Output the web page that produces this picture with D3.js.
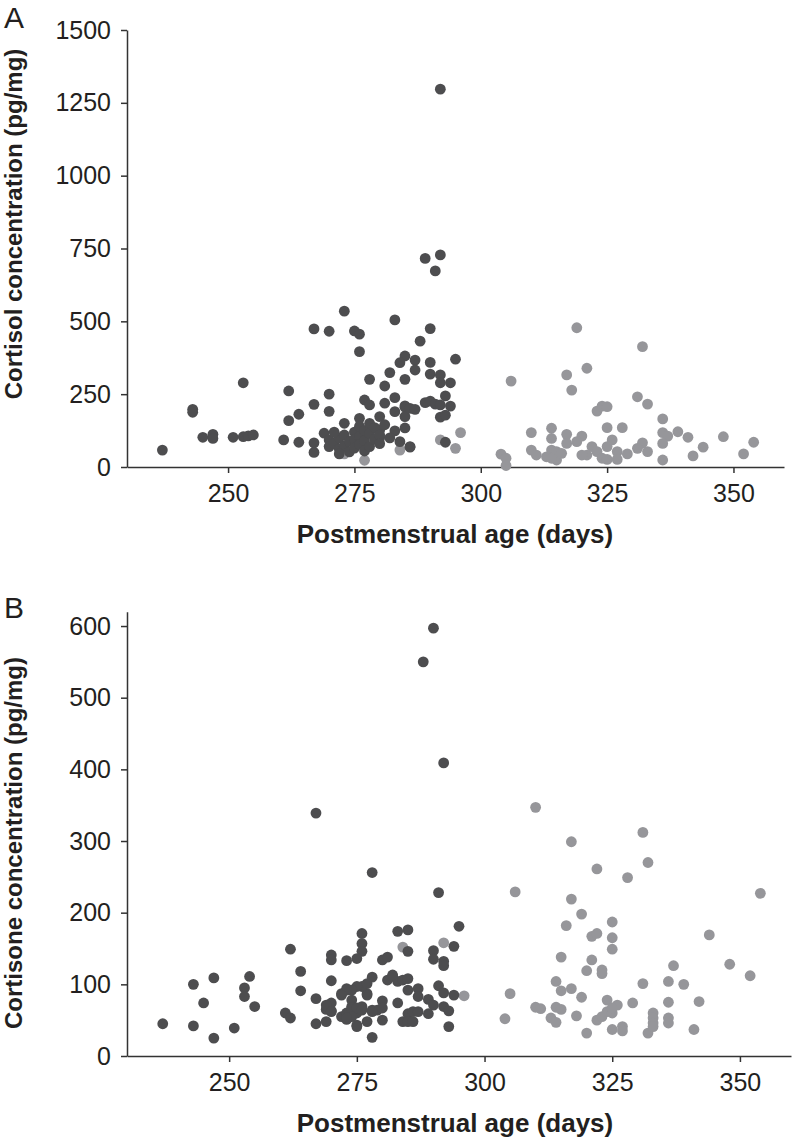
<!DOCTYPE html>
<html><head><meta charset="utf-8">
<script src="https://cdn.jsdelivr.net/npm/d3@7"></script>
<style>
html,body{margin:0;padding:0;background:#fff;}
svg{display:block;}
text{font-family:"Liberation Sans",Arial,sans-serif;fill:#231f20;}
</style></head>
<body>
<svg id="chart" width="793" height="1137"></svg>
<script>
// ---------- DATA ----------
const xTicks = [250, 275, 300, 325, 350];
const cortisolTicks = [0, 250, 500, 750, 1000, 1250, 1500];
const cortisoneTicks = [0, 100, 200, 300, 400, 500, 600];

// Panel A – cortisol, dark group [age, value]
const cortisolDark = [
 [237,58],[243,198],[243,188],[245,102],[247,112],[247,98],[251,102],[253,104],[254,107],[255,110],[253,289],
 [261,93],[262,261],[262,159],[264,181],[264,85],[267,474],[270,466],[267,215],[270,250],[270,191],[267,83],[267,50],
 [273,535],[275,467],[276,456],[276,396],[278,301],[283,505],[282,324],[281,278],[281,219],[277,230],[278,213],[273,150],
 [285,381],[284,358],[285,301],[283,238],[285,205],[283,190],[285,173],[280,173],[276,167],[269,116],[270,93],[270,70],
 [283,124],[285,134],[286,70],[280,127],[280,100],
 [289,716],[292,728],[291,673],[290,475],[288,432],[287,367],[287,333],[290,359],[295,370],[290,319],[292,316],[292,289],[294,289],
 [285,210],[286,201],[287,198],[289,221],[290,226],[291,216],[293,244],[294,209],[292,213],[292,171],[293,178],
 [284,87],[286,68],[293,85],[292,1297],
 [271,80],[272,62],[272,100],[273,110],[273,72],[274,88],[274,52],[275,120],[275,95],[275,65],[276,140],[276,105],
 [276,78],[277,125],[277,90],[277,55],[278,150],[278,115],[278,70],[279,135],[279,95],[280,110],[280,80],[281,145],
 [282,100],[271,120],[272,45]
];
// Panel A – cortisol, light group
const cortisolLight = [
 [273,45],[277,23],[284,58],[292,93],[296,118],[295,64],[304,44],[305,30],[305,5],
 [319,478],[332,413],[306,295],[317,316],[321,339],[318,264],[331,241],[333,216],[323,192],[324,209],[325,207],[336,165],
 [310,118],[314,133],[314,98],[317,112],[317,81],[320,106],[319,87],[325,135],[328,135],[326,93],[325,70],
 [336,118],[337,106],[336,81],[339,121],[341,102],[348,104],[354,85],[344,68],[342,38],[352,45],[336,24],
 [332,83],[331,64],[333,53],[329,45],[327,53],[327,26],[322,70],[321,41],[320,41],[323,53],[324,30],[325,26],
 [310,58],[311,41],[313,35],[314,58],[315,53],[315,24],[316,47],[314,30]
];
// Panel B – cortisone, dark group
const cortisoneDark = [
 [237,45],[243,100],[243,42],[245,74],[247,109],[247,25],[251,39],[253,95],[253,83],[254,111],[255,69],
 [261,60],[262,53],[262,149],[264,118],[264,91],[267,80],[267,45],[269,48],[270,141],[270,134],[270,105],
 [269,65],[270,74],[270,63],[273,133],[276,171],[276,157],[276,146],[275,136],[278,256],[278,26],[278,110],
 [272,87],[273,94],[274,78],[272,55],[273,51],[275,43],[277,48],[275,60],[276,69],[277,87],[276,97],[277,101],
 [274,69],[280,77],[280,50],[278,64],[279,64],[280,134],[281,138],[281,106],[282,111],[283,104],[284,106],
 [285,92],[283,174],[285,176],[285,146],[275,97],[277,85],[274,92],[273,92],[272,85],[269,71],[270,62],
 [273,60],[274,67],[275,67],[276,64],[278,62],[280,67],[283,74],[284,48],[285,59],[275,41],[274,55],[273,53],
 [291,228],[295,181],[290,147],[290,135],[292,132],[292,126],[294,153],[282,113],[285,108],[287,94],[287,83],
 [289,79],[290,71],[291,98],[292,88],[294,85],[292,69],[293,63],[289,59],[286,62],[287,62],[285,48],[286,48],
 [293,41],[267,339],[288,550],[290,597],[292,409]
];
// Panel B – cortisone, light group
const cortisoneLight = [
 [284,152],[292,158],[296,84],[310,347],[331,312],[317,299],[332,270],[322,261],[328,249],[306,229],[354,227],
 [317,219],[319,198],[316,182],[325,187],[321,167],[322,171],[325,165],[325,149],[344,169],[315,138],[321,134],
 [320,119],[323,120],[323,115],[337,126],[348,128],[352,112],[314,104],[315,91],[317,94],[331,101],[336,104],
 [339,100],[305,87],[319,82],[324,78],[326,71],[329,74],[336,75],[342,76],[310,68],[311,66],[314,68],[315,65],
 [313,53],[314,47],[318,56],[322,50],[323,55],[324,62],[325,60],[325,67],[304,52],[320,32],[325,37],[327,41],
 [327,35],[332,32],[333,60],[333,53],[333,46],[333,41],[336,53],[336,46],[341,37]
];

// ---------- DRAW ----------
const svg = d3.select("#chart");
const DARK = "#4d4d4f", LIGHT = "#96969a", AXIS = "#333";
const R = 5.4;

function panel(cfg) {
  const g = svg.append("g");
  const x = d3.scaleLinear().domain([230, 360]).range([cfg.x0, cfg.x1]);
  const y = d3.scaleLinear().domain([0, cfg.ymax]).range([cfg.y0, cfg.y1]);

  const xa = g.append("g").attr("transform", `translate(0,${cfg.y0})`)
    .call(d3.axisBottom(x).tickValues(xTicks).tickFormat(d3.format("d"))
      .tickSize(6).tickPadding(11).tickSizeOuter(0));
  const ya = g.append("g").attr("transform", `translate(${cfg.x0},0)`)
    .call(d3.axisLeft(y).tickValues(cfg.ticks).tickFormat(d3.format("d"))
      .tickSize(6).tickPadding(10).tickSizeOuter(0));
  [xa, ya].forEach(a => {
    a.select(".domain").attr("stroke", AXIS).attr("stroke-width", 1.5);
    a.selectAll(".tick line").attr("stroke", AXIS).attr("stroke-width", 1.5);
    a.selectAll(".tick text").attr("font-size", 25).attr("font-family", "Liberation Sans, Arial, sans-serif")
      .attr("fill", "#231f20");
  });

  g.append("g").selectAll("circle").data(cfg.light).join("circle")
    .attr("cx", d => x(d[0])).attr("cy", d => y(d[1])).attr("r", R).attr("fill", LIGHT);
  g.append("g").selectAll("circle").data(cfg.dark).join("circle")
    .attr("cx", d => x(d[0])).attr("cy", d => y(d[1])).attr("r", R).attr("fill", DARK);

  g.append("text").attr("x", 455).attr("y", cfg.y0 + 76).attr("text-anchor", "middle")
    .attr("font-size", 26).attr("font-weight", "bold").text("Postmenstrual age (days)");
  g.append("text").attr("transform", `translate(${22},${cfg.ymid}) rotate(-90)`)
    .attr("text-anchor", "middle").attr("font-size", 24).attr("font-weight", "bold").text(cfg.ylabel);
  g.append("text").attr("x", 4).attr("y", cfg.letterY).attr("font-size", 30).text(cfg.letter);
}

panel({x0: 127, x1: 784, y0: 467, y1: 30, ymax: 1500, ticks: cortisolTicks,
  dark: cortisolDark, light: cortisolLight, ylabel: "Cortisol concentration (pg/mg)",
  ymid: 224, letter: "A", letterY: 28});
panel({x0: 127, x1: 791, y0: 1056, y1: 611.7, ymax: 620, ticks: cortisoneTicks,
  dark: cortisoneDark, light: cortisoneLight, ylabel: "Cortisone concentration (pg/mg)",
  ymid: 843, letter: "B", letterY: 618});
</script>
</body></html>
